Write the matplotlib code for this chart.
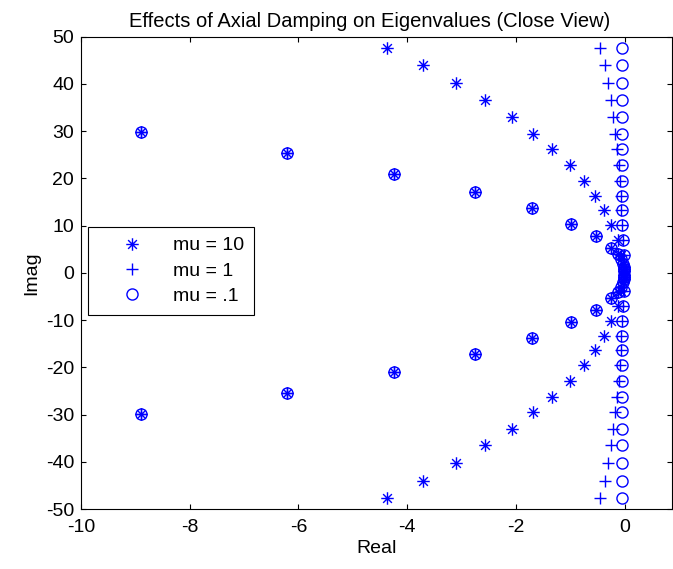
import numpy as np
import matplotlib
matplotlib.use("Agg")
import matplotlib.pyplot as plt
from matplotlib.path import Path

plt.rcParams['font.family'] = ['Liberation Sans', 'DejaVu Sans']
plt.rcParams['axes.unicode_minus'] = False

# modes that do not depend on mu (upper half; lower half is the conjugate)
common_re = [-8.9, -6.22, -4.25, -2.76, -1.71, -0.98, -0.52, -0.245, -0.13, -0.07, -0.035, -0.015, -0.004]
common_im = [29.8, 25.4, 20.9, 17.1, 13.7, 10.4, 7.9, 5.2, 4.0, 3.0, 2.0, 1.2, 0.5]

# axial modes, same imaginary parts for each mu
axial_im = [47.7, 44.0, 40.2, 36.5, 33.1, 29.5, 26.2, 22.8, 19.5, 16.3, 13.3, 10.2, 7.0, 3.9, 0.8]
re_mu10 = [-4.37, -3.71, -3.11, -2.57, -2.08, -1.69, -1.33, -1.01, -0.755, -0.54, -0.38, -0.25, -0.13, -0.06, -0.01]
re_mu1 = [-0.45, -0.37, -0.31, -0.26, -0.21, -0.17, -0.14, -0.11, -0.09, -0.07, -0.06, -0.05, -0.04, -0.02, -0.005]
re_mu01 = [-0.05, -0.05, -0.05, -0.05, -0.05, -0.05, -0.05, -0.05, -0.05, -0.05, -0.05, -0.045, -0.04, -0.02, -0.005]

labels = ['mu = 10', 'mu = 1', 'mu = .1']


def full(re, im):
    re = np.array(re)
    im = np.array(im)
    return np.concatenate([re, re]), np.concatenate([im, -im])


star = Path([(-1, 0), (1, 0), (0, -1), (0, 1), (-0.7, -0.7), (0.7, 0.7), (-0.7, 0.7), (0.7, -0.7)],
            [Path.MOVETO, Path.LINETO] * 4)

fig = plt.figure(figsize=(6.73, 5.69), dpi=100)
ax = fig.add_axes([0.1204, 0.105, 0.8781, 0.8305])

blue = (0, 0, 1)
series = [(re_mu10, star, 9), (re_mu1, '+', 9), (re_mu01, 'o', 8)]
for (re, mk, ms), lab in zip(series, labels):
    x, y = full(list(re) + common_re, axial_im + common_im)
    ax.plot(x, y, linestyle='none', marker=mk, ms=ms, mec=blue, mfc='none',
            mew=1.0, label=lab)

ax.set_xlim(-10, 0.87)
ax.set_ylim(-50, 50)
ax.set_xticks(np.arange(-10, 1, 2))
ax.set_yticks(np.arange(-50, 51, 10))
ax.tick_params(direction='in', top=True, right=True, length=3.5, labelsize=14, width=0.8)
ax.tick_params(axis='x', pad=7)
ax.tick_params(axis='y', pad=5)
for s in ax.spines.values():
    s.set_linewidth(0.8)

ax.set_title('Effects of Axial Damping on Eigenvalues (Close View)', fontsize=14.5, pad=7, x=0.489)
ax.set_xlabel('Real', fontsize=14, labelpad=3)
ax.set_ylabel('Imag', fontsize=14, labelpad=4)

leg = ax.legend(loc='upper left', bbox_to_anchor=(0.012, 0.597), borderaxespad=0,
                numpoints=1, fontsize=14, handlelength=3.5, handletextpad=0.35,
                borderpad=0.5, labelspacing=0.4, fancybox=False, framealpha=1)
leg.get_frame().set_edgecolor('black')
leg.get_frame().set_linewidth(0.8)

fig.savefig('out.png', dpi=100)
